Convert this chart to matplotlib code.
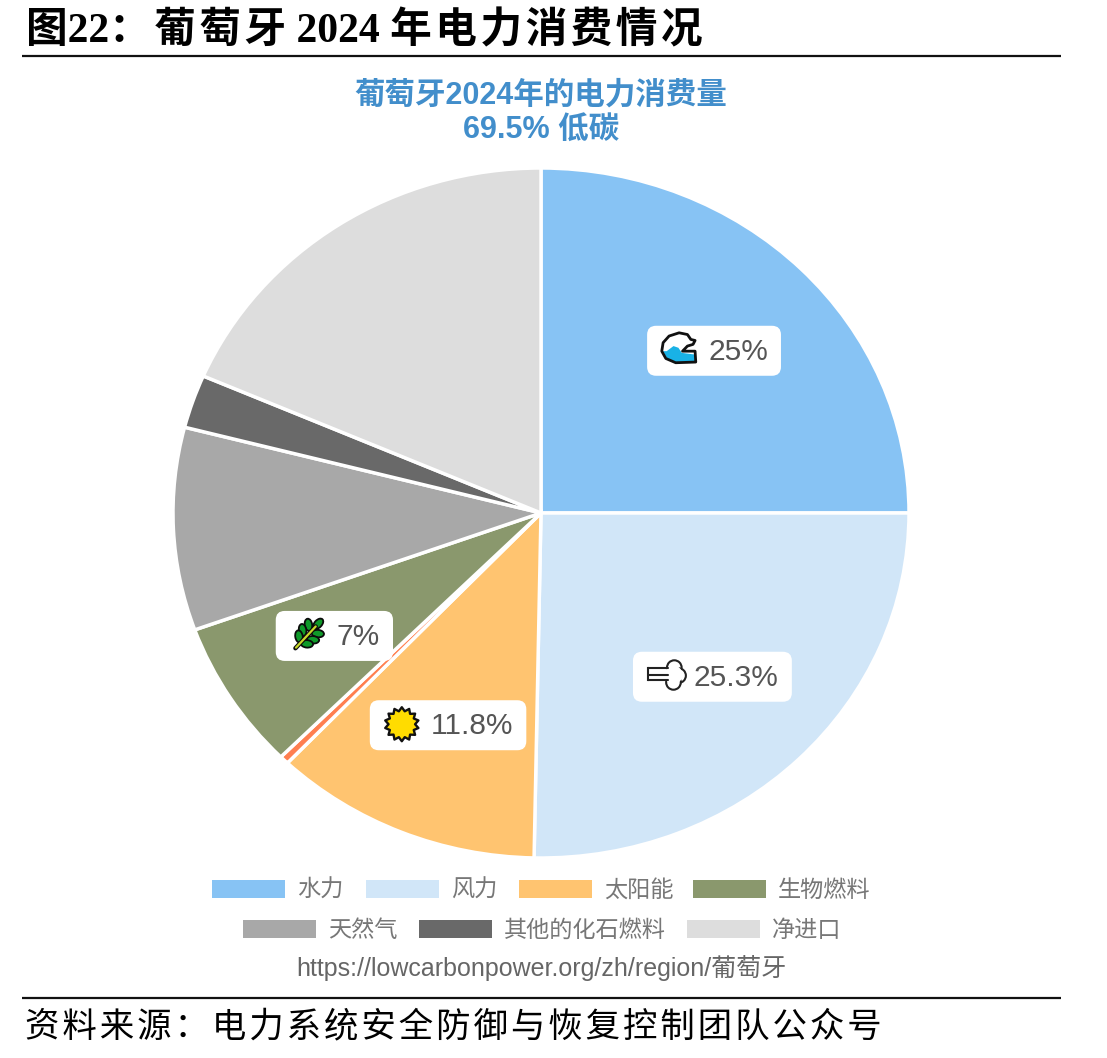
import re
import numpy as np
import matplotlib
matplotlib.use("Agg")
import matplotlib.pyplot as plt
from matplotlib.patches import FancyBboxPatch, Rectangle, Polygon, Ellipse, PathPatch
from matplotlib.path import Path
from matplotlib.transforms import Affine2D

W, H = 1107, 1058

# Electricity consumption shares, Portugal 2024 (percent)
sources = ["水力", "风力", "太阳能", "其他可再生能源", "生物燃料", "天然气", "其他的化石燃料", "净进口"]
shares = [25, 25.3, 11.8, 0.4, 7, 9.5, 2.5, 18.5]
colors = ["#87c3f4", "#d1e6f8", "#ffc470", "#ff7f50", "#8a986d", "#a8a8a8", "#696969", "#dddddd"]
labelled = {"水力": "wave", "风力": "wind", "太阳能": "sun", "生物燃料": "leaf"}

legend_row1 = ["水力", "风力", "太阳能", "生物燃料"]
legend_row2 = ["天然气", "其他的化石燃料", "净进口"]

heading = "图22：葡萄牙 2024 年电力消费情况"
chart_title = "葡萄牙2024年的电力消费量\n69.5% 低碳"
source_url = "https://lowcarbonpower.org/zh/region/葡萄牙"
footnote = "资料来源：电力系统安全防御与恢复控制团队公众号"

SANS = ["Liberation Sans", "Noto Sans CJK SC", "DejaVu Sans"]
SERIF = ["Liberation Serif", "Noto Sans CJK SC", "DejaVu Sans"]
HAIR = "\u200a"


def tracked(s):
    # Loosen CJK characters only; digit runs stay tight
    return re.sub(r"(?<=[^\x00-\x7f])(?=[^\x00-\x7f])", HAIR, s)


fig = plt.figure(figsize=(W / 100, H / 100), dpi=100)
cx, cy, rx, ry = 541, 513, 368, 345
pie_ax = fig.add_axes([(cx - rx) / W, 1 - (cy + ry) / H, 2 * rx / W, 2 * ry / H])
pie_ax.pie(shares, colors=colors, startangle=90, counterclock=False, radius=1,
           wedgeprops=dict(edgecolor="white", linewidth=2.5, clip_on=False))
pie_ax.set_aspect("auto")
pie_ax.set_xlim(-1, 1)
pie_ax.set_ylim(-1, 1)

# Full-figure layer in pixel units for text, legend and icons
ov = fig.add_axes([0, 0, 1, 1], facecolor="none")
ov.set_xlim(0, W)
ov.set_ylim(H, 0)
ov.axis("off")

# Heading, footnote and rules
ov.plot([22, 1061], [56, 56], color="#111111", lw=1.6, solid_capstyle="butt")
ov.plot([22, 1061], [998, 998], color="#111111", lw=1.6, solid_capstyle="butt")
ov.text(26, 31, tracked(heading), family=SERIF, fontsize=30, weight="bold",
        color="black", ha="left", va="center")
ov.text(25, 1027, tracked(footnote), family=SERIF, fontsize=24.8,
        color="black", ha="left", va="center")

title_lines = chart_title.split("\n")
ov.text(cx, 96, title_lines[0], family=SANS, fontsize=22, weight="bold", color="#428ecb",
        ha="center", va="center")
ov.text(cx, 131, title_lines[1], family=SANS, fontsize=22, weight="bold", color="#428ecb",
        ha="center", va="center")
ov.text(541, 968, source_url, family=SANS, fontsize=18, color="#666666", ha="center", va="center")


def place(tr_x, tr_y, s):
    return Affine2D().scale(s).translate(tr_x, tr_y) + ov.transData


def draw_wave(x, y):
    tr = place(x, y, 17)
    outline = [(.98, .84), (-.2, .88), (-.78, .63), (-1.02, .2), (-.94, -.3), (-.59, -.69), (0, -.88),
               (.49, -.78), (.69, -.49), (.94, -.43), (.82, -.2), (.49, -.1), (.2, .2), (.94, .2)]
    ov.add_patch(Polygon(outline, closed=True, fc="white", ec="none", transform=tr, zorder=6))
    water = [(.94, .8), (-.2, .84), (-.72, .6), (-.95, .2), (-.73, .2), (-.33, -.1), (-.04, 0), (.16, .3), (.94, .4)]
    ov.add_patch(Polygon(water, closed=True, fc="#19b2e6", ec="none", transform=tr, zorder=6))
    ov.add_patch(Polygon(outline, closed=True, fc="none", ec="#111111", lw=2, joinstyle="round",
                         transform=tr, zorder=7))


def draw_wind(x, y):
    tr = place(x, y, 17)
    for (ex, ey) in [(.55, -.42), (.8, .05), (.5, .45)]:
        ov.add_patch(Ellipse((ex, ey), .86, .86, fc="white", ec="#222222", lw=1.5, transform=tr, zorder=6))
    ov.add_patch(Ellipse((.5, 0), 1.05, 1.1, fc="white", ec="none", transform=tr, zorder=6))
    for yl in [-.38, 0, .33]:
        ov.plot([-1, .2], [yl, yl], color="#222222", lw=1.5, solid_capstyle="round", transform=tr, zorder=7)
    ov.plot([-1, -1], [-.38, .33], color="#222222", lw=1.5, transform=tr, zorder=7)


def draw_sun(x, y):
    star = Path.unit_regular_star(14, innerCircle=0.78)
    ov.add_patch(PathPatch(star, fc="#ffdc00", ec="#111111", lw=1.7, joinstyle="round",
                           transform=place(x, y, 17), zorder=6))


def draw_leaf(x, y):
    tr = Affine2D().rotate_deg(-47).scale(17).translate(x, y) + ov.transData
    leaflets = [(.82, 0, 0), (.38, -.38, -52), (.38, .38, 52), (-.08, -.42, -52), (-.08, .42, 52),
                (-.5, -.32, -52), (-.5, .32, 52)]
    for (ex, ey, ang) in leaflets:
        ov.add_patch(Ellipse((ex, ey), .72, .44, angle=ang, fc="#0f9a2a", ec="#0b0b0b", lw=1.3,
                             transform=tr, zorder=6))
    ov.plot([-1.15, .6], [0, 0], color="#0b0b0b", lw=3.2, solid_capstyle="round", transform=tr, zorder=7)
    ov.plot([-1.1, .6], [0, 0], color="#c8d92a", lw=1.6, solid_capstyle="round", transform=tr, zorder=8)


# Icon painter and its offset from the badge's left edge and centre line
icon_painters = dict(wave=(draw_wave, 32, -3), wind=(draw_wind, 32, -2), sun=(draw_sun, 32, -1), leaf=(draw_leaf, 33, -2))

# Value badges sit on each wedge's bisector
fig.canvas.draw()
renderer = fig.canvas.get_renderer()
total = sum(shares)
running = 0
for name, value in zip(sources, shares):
    mid = (running + value / 2) / total * 2 * np.pi
    running += value
    if name not in labelled:
        continue
    bx = cx + 0.665 * rx * np.sin(mid)
    by = cy - 0.665 * ry * np.cos(mid)
    txt = ov.text(0, by + 1, f"{value:g}%", family=SANS, fontsize=21.5, color="#555555",
                  ha="left", va="center", zorder=5)
    tw = txt.get_window_extent(renderer).width
    bw = 61 + tw + 13
    left = bx - bw / 2
    txt.set_x(left + 61)
    ov.add_patch(FancyBboxPatch((left + 9, by - 16), bw - 18, 32, boxstyle="round,pad=9",
                                fc="white", ec="none", zorder=3))
    painter, dx, dy = icon_painters[labelled[name]]
    painter(left + dx, by + dy)

# Legend rows
colour_of = dict(zip(sources, colors))
rows = [(legend_row1, 889, [212, 366, 519, 693]), (legend_row2, 929, [243, 419, 687])]
for names, yc, starts in rows:
    for name, x0 in zip(names, starts):
        ov.add_patch(Rectangle((x0, yc - 9), 73, 18, fc=colour_of[name], ec="none"))
        ov.text(x0 + 85, yc + 8, name, family=SANS, fontsize=16.7, color="#777777", ha="left", va="baseline")

fig.savefig("out.png", dpi=100, facecolor="white")
